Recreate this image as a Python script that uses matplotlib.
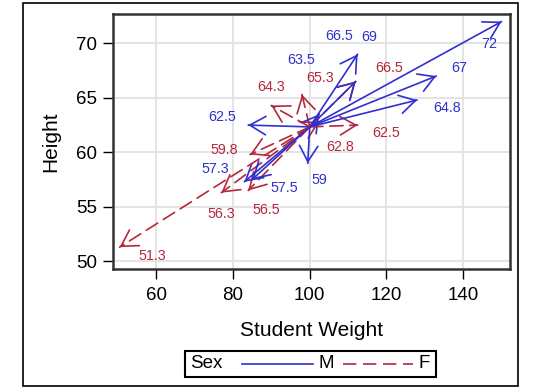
import numpy as np
import matplotlib.pyplot as plt
from matplotlib.lines import Line2D
from matplotlib.patches import Rectangle

plt.rcParams['font.family'] = ['Liberation Sans', 'DejaVu Sans']

# sashelp.class
names = ['Alfred', 'Alice', 'Barbara', 'Carol', 'Henry', 'James', 'Jane', 'Janet',
         'Jeffrey', 'John', 'Joyce', 'Judy', 'Louise', 'Mary', 'Philip', 'Robert',
         'Ronald', 'Thomas', 'William']
sex = ['M', 'F', 'F', 'F', 'M', 'M', 'F', 'F', 'M', 'M', 'F', 'F', 'F', 'F', 'M', 'M',
       'M', 'M', 'M']
height = [69.0, 56.5, 65.3, 62.8, 63.5, 57.3, 59.8, 62.5, 62.5, 59.0, 51.3, 64.3,
          56.3, 66.5, 72.0, 64.8, 67.0, 57.5, 66.5]
weight = [112.5, 84.0, 98.0, 102.5, 102.5, 83.0, 84.5, 112.5, 84.0, 99.5, 50.5, 90.0,
          77.0, 112.0, 150.0, 128.0, 133.0, 85.0, 112.0]

# label offsets from arrow tip (pixels, x right / y up)
label_dx = [12, 18, 18, 21, -18, -29, -26, 29, -26, 12, 33, 0, 0, 33, -12, 30, 23, 32, -17]
label_dy = [17, -20, 17, -25, 54, 13, 5, -8, 8, -17, -9, 18, -21, 14, -22, -8, 8, -8, 46]

colors = {'M': '#3030D0', 'F': '#B3283C'}
styles = {'M': '-', 'F': (0, (8, 4))}

x0 = np.mean(weight)
y0 = np.mean(height)

fig = plt.figure(figsize=(5.38, 3.87), dpi=100)
ax = fig.add_axes([0.2095, 0.305, 0.7385, 0.659])

head = '->,head_length=0.6,head_width=0.35'
for i in range(len(names)):
    c = colors[sex[i]]
    # shaft (dashed for F)
    ax.annotate('', xy=(weight[i], height[i]), xytext=(x0, y0),
                arrowprops=dict(arrowstyle='-', color=c, lw=1.2,
                                linestyle=styles[sex[i]], shrinkA=0, shrinkB=0))
    # solid open head
    bx = weight[i] - 0.02 * (weight[i] - x0)
    by = height[i] - 0.02 * (height[i] - y0)
    ax.annotate('', xy=(weight[i], height[i]), xytext=(bx, by),
                arrowprops=dict(arrowstyle=head, mutation_scale=19, color=c, lw=1.2,
                                shrinkA=0, shrinkB=0))
for i in range(len(names)):
    ax.annotate(f'{height[i]:g}', xy=(weight[i], height[i]),
                xytext=(label_dx[i], label_dy[i]), textcoords='offset pixels',
                ha='center', va='center', fontsize=10.3, color=colors[sex[i]])

ax.set_xlim(48.7, 152.2)
ax.set_ylim(49.3, 72.7)
ax.set_xticks([60, 80, 100, 120, 140])
ax.set_yticks([50, 55, 60, 65, 70])
ax.grid(True, color='#E2E2E2', lw=1.3)
ax.set_axisbelow(True)
ax.tick_params(labelsize=13.5, length=7, width=1, color='black', pad=4)
ax.tick_params(axis='x', pad=6)
for s in ax.spines.values():
    s.set_linewidth(1.8)
    s.set_color('#333333')
ax.set_xlabel('Student Weight', fontsize=15, labelpad=12)
ax.set_ylabel('Height', fontsize=15, labelpad=12)

# legend box
W, H = 538, 387
fig.add_artist(Rectangle((185 / W, 1 - 377 / H), 251 / W, 26 / H, transform=fig.transFigure,
                         fill=False, ec='black', lw=1.5))
ly = 1 - 364 / H
fig.text(190 / W, ly, 'Sex', fontsize=13.5, va='center', ha='left')
fig.add_artist(Line2D([242 / W, 313 / W], [ly, ly], color=colors['M'], lw=1.2))
fig.text(318 / W, ly, 'M', fontsize=13.5, va='center', ha='left')
fig.add_artist(Line2D([343 / W, 413 / W], [ly, ly], color=colors['F'], lw=1.2,
                      linestyle=styles['F']))
fig.text(419 / W, ly, 'F', fontsize=13.5, va='center', ha='left')

# outer border
fig.add_artist(Rectangle((23 / W, 1 - 386 / H), 495 / W, 383 / H, transform=fig.transFigure,
                         fill=False, ec='black', lw=1.2))

fig.savefig('out.png', dpi=100)
